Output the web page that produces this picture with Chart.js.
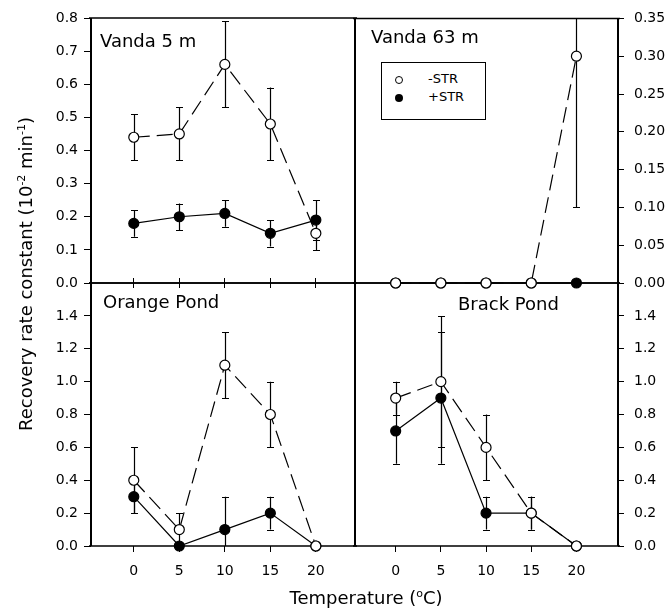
<!DOCTYPE html>
<html lang="en">
<head>
<meta charset="UTF-8">
<title>Recovery rate constant vs temperature</title>
<script src="https://cdn.jsdelivr.net/npm/chart.js"></script>
<style>
  body { margin: 0; background: #fff; }
  #wrap { position: relative; width: 667px; height: 611px; font-family: "DejaVu Sans", sans-serif; color: #000; }
  #wrap canvas { position: absolute; left: 0; top: 0; }
  .lbl { position: absolute; white-space: nowrap; font-size: 18px; line-height: 20px; }
  .lbl sup { font-size: 11px; line-height: 0; }
  #ytitle { left: 26px; top: 274px; transform: translate(-50%, -50%) rotate(-90deg); }
  #xtitle { left: 366px; top: 598px; transform: translate(-50%, -50%); }
  #legend { position: absolute; left: 381px; top: 62px; width: 103px; height: 56px; border: 1px solid #000; background: #fff; }
  #legend .mk { position: absolute; border-radius: 50%; box-sizing: border-box; }
  #legend .txt { position: absolute; left: 46px; font-size: 13px; line-height: 16px; }
</style>
</head>
<body>
<div id="wrap">
  <canvas id="bl" width="667" height="611"></canvas>
  <canvas id="br" width="667" height="611"></canvas>
  <canvas id="tl" width="667" height="611"></canvas>
  <canvas id="tr" width="667" height="611"></canvas>

  <div class="lbl" style="left:100px;top:31px">Vanda 5 m</div>
  <div class="lbl" style="left:371px;top:27px">Vanda 63 m</div>
  <div class="lbl" style="left:103px;top:292px">Orange Pond</div>
  <div class="lbl" style="left:458px;top:294px">Brack Pond</div>

  <div id="legend">
    <span class="mk" style="left:13px;top:13px;width:8px;height:8px;border:1px solid #000"></span>
    <span class="txt" style="top:8px">-STR</span>
    <span class="mk" style="left:13px;top:31px;width:8px;height:8px;background:#000"></span>
    <span class="txt" style="top:26px">+STR</span>
  </div>

  <div class="lbl" id="ytitle">Recovery rate constant (10<sup>-2</sup> min<sup>-1</sup>)</div>
  <div class="lbl" id="xtitle">Temperature (<sup>o</sup>C)</div>
</div>

<script>
// temperatures (°C)
const temps = [0, 5, 10, 15, 20];
const xTicks = [0, 5, 10, 15, 20];

// Vanda 5 m
const v5Minus = [0.44, 0.45, 0.66, 0.48, 0.15];
const v5MinusErr = [0.07, 0.08, 0.13, 0.11, 0.05];
const v5Plus = [0.18, 0.20, 0.21, 0.15, 0.19];
const v5PlusErr = [0.04, 0.04, 0.04, 0.04, 0.06];

// Vanda 63 m
const v63Minus = [0, 0, 0, 0, 0.30];
const v63MinusErr = [0, 0, 0, 0, 0.20];
const v63Plus = [0, 0, 0, 0, 0];
const v63PlusErr = [0, 0, 0, 0, 0];

// Orange Pond
const opMinus = [0.40, 0.10, 1.10, 0.80, 0.00];
const opMinusErr = [0.20, 0.10, 0.20, 0.20, 0];
const opPlus = [0.30, 0.00, 0.10, 0.20, 0.00];
const opPlusErr = [0.10, 0, 0.20, 0.10, 0];

// Brack Pond
const bpMinus = [0.90, 1.00, 0.60, 0.20, 0.00];
const bpMinusErr = [0.10, 0.40, 0.20, 0.10, 0];
const bpPlus = [0.70, 0.90, 0.20, 0.20, 0.00];
const bpPlusErr = [0.20, 0.40, 0.10, 0.10, 0];

// y tick labels per panel
const yTicksV5 = [0, 0.1, 0.2, 0.3, 0.4, 0.5, 0.6, 0.7, 0.8];
const yTicksV63 = [0, 0.05, 0.10, 0.15, 0.20, 0.25, 0.30, 0.35];
const yTicksPond = [0, 0.2, 0.4, 0.6, 0.8, 1.0, 1.2, 1.4];

const tickFont = { family: 'DejaVu Sans', size: 14 };

// box around each panel, drawn under the data
const framePlugin = {
    id: 'frame',
    beforeDatasetsDraw(chart) {
        const a = chart.chartArea, ctx = chart.ctx;
        ctx.save();
        ctx.strokeStyle = '#000';
        ctx.lineWidth = 1.5;
        ctx.beginPath();
        ctx.moveTo(a.left - 2, a.top); ctx.lineTo(a.right + 2, a.top);
        ctx.moveTo(a.left - 2, a.bottom); ctx.lineTo(a.right + 2, a.bottom);
        ctx.stroke();
        ctx.lineWidth = 2;
        ctx.beginPath();
        ctx.moveTo(a.left, a.top); ctx.lineTo(a.left, a.bottom);
        ctx.moveTo(a.right, a.top); ctx.lineTo(a.right, a.bottom);
        ctx.stroke();
        ctx.restore();
    }
};

// vertical error bars with caps
const errorBarPlugin = {
    id: 'errbars',
    beforeDatasetsDraw(chart) {
        const ctx = chart.ctx, a = chart.chartArea;
        const xs = chart.scales.x, ys = chart.scales.y;
        ctx.save();
        ctx.strokeStyle = '#000';
        ctx.lineWidth = 1.2;
        chart.data.datasets.forEach(ds => {
            ds.data.forEach((p, i) => {
                const e = ds.errorBars[i];
                if (!e) return;
                const x = Math.round(xs.getPixelForValue(p.x)) + 0.5;
                let yHi = ys.getPixelForValue(p.y + e);
                let yLo = ys.getPixelForValue(p.y - e);
                const capHi = yHi >= a.top, capLo = yLo <= a.bottom;
                yHi = Math.max(yHi, a.top);
                yLo = Math.min(yLo, a.bottom);
                ctx.beginPath();
                ctx.moveTo(x, yHi); ctx.lineTo(x, yLo);
                if (capHi) { ctx.moveTo(x - 3.5, Math.round(yHi) + 0.5); ctx.lineTo(x + 3.5, Math.round(yHi) + 0.5); }
                if (capLo) { ctx.moveTo(x - 3.5, Math.round(yLo) + 0.5); ctx.lineTo(x + 3.5, Math.round(yLo) + 0.5); }
                ctx.stroke();
            });
        });
        ctx.restore();
    }
};

function series(vals, errs, open) {
    return {
        data: temps.map((t, i) => ({ x: t, y: vals[i] })),
        errorBars: errs,
        borderColor: '#000',
        borderWidth: 1.2,
        borderDash: open ? [16, 7] : [],
        pointRadius: 5,
        pointHoverRadius: 5,
        pointBorderWidth: 1.2,
        pointBorderColor: '#000',
        pointBackgroundColor: open ? '#fff' : '#000',
        tension: 0,
        clip: false
    };
}

function makePanel(id, p) {
    const left = p.side === 'left';
    const top = p.row === 'top';
    const yW = left ? 60 : 47;
    const xH = top ? 5 : 45;
    const scales = {
        x: {
            type: 'linear',
            min: p.xMin, max: p.xMax,
            afterBuildTicks: s => { s.ticks = xTicks.map(v => ({ value: v })); },
            afterFit: s => { s.height = xH; },
            grid: { drawOnChartArea: false, color: '#000', tickLength: top ? 5 : 6, tickWidth: 1 },
            border: { display: false },
            ticks: { display: !top, color: '#000', font: tickFont, padding: 11, maxRotation: 0 }
        },
        y: {
            position: p.side,
            min: 0, max: p.yMax,
            afterBuildTicks: s => { s.ticks = p.yTicks.map(v => ({ value: v })); },
            afterFit: s => { s.width = yW; },
            grid: { drawOnChartArea: false, color: '#000', tickLength: left ? 7 : 6, tickWidth: 1 },
            border: { display: false },
            ticks: { color: '#000', font: tickFont, padding: left ? 6 : 10,
                     callback: v => v.toFixed(p.digits) }
        }
    };
    if (!top) {
        scales.xTop = {
            type: 'linear', position: 'top',
            min: p.xMin, max: p.xMax,
            afterBuildTicks: s => { s.ticks = xTicks.map(v => ({ value: v })); },
            afterFit: s => { s.height = 5; },
            grid: { drawOnChartArea: false, color: '#000', tickLength: 5, tickWidth: 1 },
            border: { display: false },
            ticks: { display: false }
        };
    }
    new Chart(document.getElementById(id), {
        type: 'line',
        data: { datasets: [series(p.minus, p.minusErr, true), series(p.plus, p.plusErr, false)] },
        options: {
            responsive: false,
            animation: false,
            events: [],
            layout: {
                padding: {
                    left: left ? 91 - yW : 355,
                    right: left ? 667 - 355 : 667 - 618 - yW,
                    top: top ? 18 : 278,
                    bottom: top ? 611 - 283 - xH : 611 - 546 - xH
                }
            },
            plugins: { legend: { display: false }, tooltip: { enabled: false } },
            scales: scales
        },
        plugins: [framePlugin, errorBarPlugin]
    });
}

makePanel('bl', { side: 'left', row: 'bottom', xMin: -4.7, xMax: 24.3, yMax: 1.6, yTicks: yTicksPond, digits: 1,
    minus: opMinus, minusErr: opMinusErr, plus: opPlus, plusErr: opPlusErr });
makePanel('br', { side: 'right', row: 'bottom', xMin: -4.5, xMax: 24.6, yMax: 1.6, yTicks: yTicksPond, digits: 1,
    minus: bpMinus, minusErr: bpMinusErr, plus: bpPlus, plusErr: bpPlusErr });
makePanel('tl', { side: 'left', row: 'top', xMin: -4.7, xMax: 24.3, yMax: 0.8, yTicks: yTicksV5, digits: 1,
    minus: v5Minus, minusErr: v5MinusErr, plus: v5Plus, plusErr: v5PlusErr });
makePanel('tr', { side: 'right', row: 'top', xMin: -4.5, xMax: 24.6, yMax: 0.35, yTicks: yTicksV63, digits: 2,
    minus: v63Minus, minusErr: v63MinusErr, plus: v63Plus, plusErr: v63PlusErr });
</script>
</body>
</html>
